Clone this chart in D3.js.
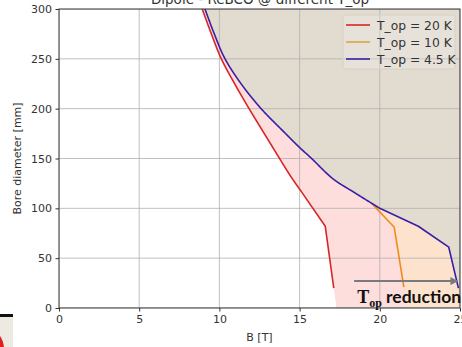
<!DOCTYPE html>
<html>
<head>
<meta charset="utf-8">
<script src="https://cdn.jsdelivr.net/npm/d3@7"></script>
<style>
  body { margin: 0; background: #fff; }
  svg { display: block; font-family: "DejaVu Sans", sans-serif; }
</style>
</head>
<body>
<div id="chart"></div>
<script>
// curves: B [T] vs bore diameter [mm]
var b20 = [8.93, 9.5, 10.12, 10.95, 11.85, 12.8, 13.75, 14.45, 15.1, 16.6, 17.13];
var d20 = [300, 275, 250, 225, 200, 175, 150, 132, 117, 82, 20];
var b10 = [19.5, 20.9, 21.5];
var d10 = [105, 81, 21];
var b45 = [9.1, 9.68, 10.35, 11.35, 12.6, 14.0, 15.0, 15.75, 17.05, 18.4, 20.0, 22.4, 24.3, 24.9];
var d45 = [300, 275, 250, 225, 200, 177, 161, 150, 130, 116, 100, 82, 61, 20];
// last point of the smooth part of each curve (after it, straight segments)
var smooth20 = 8, smooth10 = 0, smooth45 = 10;
// where each shaded region meets the B axis
var edge20 = 17.3, edge10 = 21.75, edge45 = 25.2;

var labels = ["T_op = 20 K", "T_op = 10 K", "T_op = 4.5 K"];
var colors = ["#d62728", "#f28a1e", "#3b1ea6"];
var xTicks = [0, 5, 10, 15, 20, 25];
var yTicks = [0, 50, 100, 150, 200, 250, 300];
var arrowFrom = 18.4, arrowTo = 24.85, arrowAt = 27;

var width = 462, height = 347;
var margin = { top: 9, right: 2, bottom: 39, left: 59 };

var svg = d3.select("#chart").append("svg")
    .attr("width", width)
    .attr("height", height);

var x = d3.scaleLinear().domain([0, 25]).range([margin.left, width - margin.right]);
var y = d3.scaleLinear().domain([0, 300]).range([height - margin.bottom, margin.top]);

svg.append("clipPath").attr("id", "plot")
    .append("rect")
    .attr("x", x(0)).attr("y", y(300))
    .attr("width", x(25) - x(0)).attr("height", y(0) - y(300));

var pts = (bs, ds) => bs.map((b, i) => [b, ds[i]]);

// catmull-rom spline through the first k+1 points, straight segments after
function curvePts(bs, ds, k) {
    var p = pts(bs, ds);
    var head = p.slice(0, k + 1), out = [];
    if (head.length < 3) return p;
    var n = 40;
    for (var i = 0; i < head.length - 1; i++) {
        var p0 = head[Math.max(i - 1, 0)], p1 = head[i], p2 = head[i + 1], p3 = head[Math.min(i + 2, head.length - 1)];
        for (var s = 0; s < n; s++) {
            var t = s / n;
            out.push([0, 1].map(j => 0.5 * ((2 * p1[j]) + (-p0[j] + p2[j]) * t +
                (2 * p0[j] - 5 * p1[j] + 4 * p2[j] - p3[j]) * t * t +
                (-p0[j] + 3 * p1[j] - 3 * p2[j] + p3[j]) * t * t * t)));
        }
    }
    out.push(head[head.length - 1]);
    return out.concat(p.slice(k + 1));
}

var line = d3.line().x(d => x(d[0])).y(d => y(d[1]));

var c20 = curvePts(b20, d20, smooth20);
var c10 = curvePts(b10, d10, smooth10);
var c45 = curvePts(b45, d45, smooth45);

var g = svg.append("g").attr("clip-path", "url(#plot)");

// shaded regions
var area20 = c20.concat([[edge20, 0], [26, 0], [26, 300]]);
var area10 = c10.concat([[edge10, 0], [26, 0], [26, d10[0]]]);
var area45 = c45.concat([[edge45, 0], [26, 0], [26, 310], [b45[0], 310]]);
g.append("path").attr("d", line(area20) + "Z").attr("fill", "#fedddd");
g.append("path").attr("d", line(area10) + "Z").attr("fill", "#fde3cd");
g.append("path").attr("d", line(area45) + "Z").attr("fill", "#e2dbd0");

// grid
g.selectAll(".gx").data(xTicks).enter().append("line")
    .attr("x1", d => x(d)).attr("x2", d => x(d))
    .attr("y1", y(0)).attr("y2", y(300))
    .attr("stroke", "#b0b0b0").attr("stroke-opacity", 0.8).attr("stroke-width", 1);
g.selectAll(".gy").data(yTicks).enter().append("line")
    .attr("x1", x(0)).attr("x2", x(25))
    .attr("y1", d => y(d)).attr("y2", d => y(d))
    .attr("stroke", "#b0b0b0").attr("stroke-opacity", 0.8).attr("stroke-width", 1);

// curves
[c20, c10, c45].forEach((p, i) => {
    g.append("path").attr("d", line(p))
        .attr("fill", "none")
        .attr("stroke", colors[i])
        .attr("stroke-width", 1.6)
        .attr("stroke-linejoin", "round");
});

// axes
var xAxis = svg.append("g")
    .attr("transform", `translate(0,${y(0)})`)
    .call(d3.axisBottom(x).tickValues(xTicks).tickSize(3.5).tickPadding(3.5));
var yAxis = svg.append("g")
    .attr("transform", `translate(${x(0)},0)`)
    .call(d3.axisLeft(y).tickValues(yTicks).tickSize(3.5).tickPadding(3.5));
[xAxis, yAxis].forEach(a => {
    a.select(".domain").remove();
    a.selectAll("line").attr("stroke", "#333");
    a.selectAll("text").attr("fill", "#333")
        .style("font-family", "DejaVu Sans").style("font-size", "11px");
});

// frame
svg.append("rect")
    .attr("x", x(0)).attr("y", y(300))
    .attr("width", x(25) - x(0)).attr("height", y(0) - y(300))
    .attr("fill", "none").attr("stroke", "#333").attr("stroke-width", 1);

// titles
svg.append("text").attr("x", 260).attr("y", 4)
    .attr("text-anchor", "middle").attr("fill", "#333")
    .style("font-size", "13.5px")
    .text("Dipole - ReBCO @ different T_op");
svg.append("text").attr("x", (x(0) + x(25)) / 2).attr("y", 341)
    .attr("text-anchor", "middle").attr("fill", "#333")
    .style("font-size", "11px")
    .text("B [T]");
svg.append("text")
    .attr("transform", `translate(21,${(y(0) + y(300)) / 2}) rotate(-90)`)
    .attr("text-anchor", "middle").attr("fill", "#333")
    .style("font-size", "11px")
    .text("Bore diameter [mm]");

// legend
var leg = svg.append("g").attr("transform", "translate(343,15)");
leg.append("rect").attr("width", 112).attr("height", 54).attr("rx", 2)
    .attr("fill", "#fff").attr("fill-opacity", 0.2)
    .attr("stroke", "#d6d0c6");
labels.forEach((t, i) => {
    var ly = 10 + i * 17;
    leg.append("line").attr("x1", 3).attr("x2", 27).attr("y1", ly).attr("y2", ly)
        .attr("stroke", i == 1 ? "#dca444" : colors[i]).attr("stroke-width", 1.6);
    leg.append("text").attr("x", 34).attr("y", ly + 4.5)
        .attr("fill", "#333").style("font-size", "12.3px")
        .text(t);
});

// T_op reduction arrow
svg.append("defs").append("marker")
    .attr("id", "head").attr("viewBox", "0 0 10 10")
    .attr("refX", 9).attr("refY", 5)
    .attr("markerWidth", 4).attr("markerHeight", 4)
    .attr("orient", "auto")
    .append("path").attr("d", "M0,0L10,5L0,10Z").attr("fill", "#7a7a7a");
svg.append("line")
    .attr("x1", x(arrowFrom)).attr("x2", x(arrowTo))
    .attr("y1", y(arrowAt)).attr("y2", y(arrowAt))
    .attr("stroke", "#7a7a7a").attr("stroke-width", 2)
    .attr("marker-end", "url(#head)");

var note = svg.append("text").attr("x", x(18.6)).attr("y", 303)
    .attr("fill", "#111").style("font-weight", "bold");
note.append("tspan").style("font-family", "Liberation Serif").style("font-size", "18px").text("T");
note.append("tspan").style("font-family", "Liberation Serif").style("font-size", "12px")
    .attr("dy", 4).text("op");
note.append("tspan").style("font-family", "Lato").style("font-size", "17.5px")
    .attr("dy", -4).attr("dx", 4).text("reduction");

// fragment of a neighbouring picture at the bottom left
svg.append("rect").attr("x", 0).attr("y", 317).attr("width", 13).attr("height", 30).attr("fill", "#eeeae2");
svg.append("rect").attr("x", 0).attr("y", 314).attr("width", 13).attr("height", 3).attr("fill", "#111");
svg.append("path").attr("d", "M0,336Q3,340 4,347L0,347Z").attr("fill", "#e02020");
</script>
</body>
</html>
